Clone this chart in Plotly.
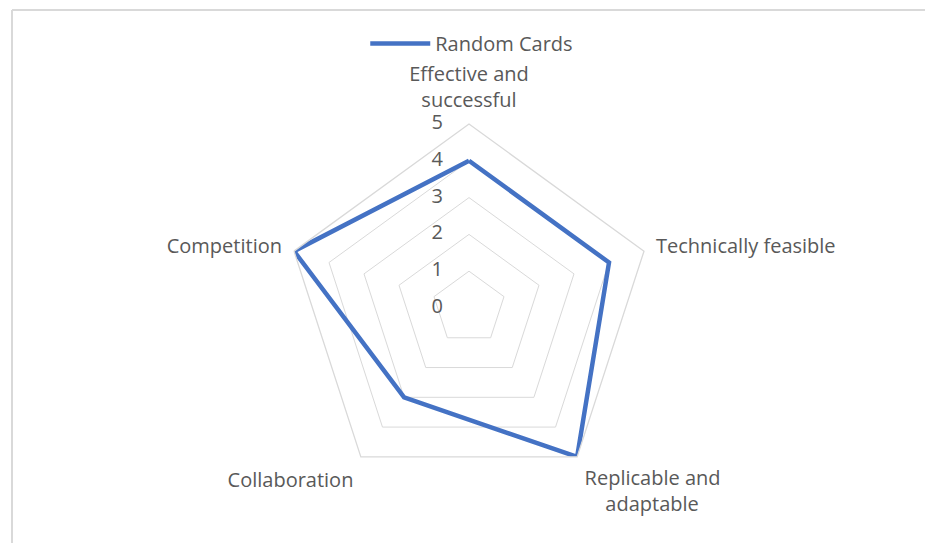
import plotly.graph_objects as go

categories = ["Effective and<br>successful", "Technically feasible",
              "Replicable and<br>&nbsp;&nbsp;&nbsp;&nbsp;adaptable", "Collaboration", "Competition"]
random_cards = [4, 4, 5, 3, 5]
series_name = "Random Cards"
radial_ticks = [0, 1, 2, 3, 4, 5]

W, H = 925, 543
cx, cy, rad = 469, 308, 184  # pixel centre / radius of the radar

fig = go.Figure()
fig.add_trace(go.Scatterpolar(
    r=random_cards + random_cards[:1],
    theta=categories + categories[:1],
    mode="lines",
    name=series_name,
    line=dict(color="#4472c4", width=4.5),
))

# radial tick labels, placed left of the vertical axis like Excel does
# (tiny nudge off 0 so plotly doesn't drop the centre label)
fig.add_trace(go.Scatterpolar(
    r=[max(t, 0.001) for t in radial_ticks],
    theta=[categories[0]] * len(radial_ticks),
    mode="text",
    text=[f"{t}&nbsp;&nbsp;&nbsp;&nbsp;&nbsp;" for t in radial_ticks],
    textposition="middle left",
    textfont=dict(size=20, color="#595959"),
    showlegend=False,
    hoverinfo="skip",
    cliponaxis=False,
))

fig.update_layout(
    width=W, height=H,
    paper_bgcolor="white",
    margin=dict(l=0, r=0, t=0, b=0),
    font=dict(family="Open Sans, sans-serif", size=20, color="#595959"),
    showlegend=True,
    legend=dict(orientation="h", x=0.51, xanchor="center", y=1 - 24 / H, yanchor="top",
                font=dict(size=20, color="#595959"), itemwidth=60, bgcolor="rgba(0,0,0,0)"),
    polar=dict(
        domain=dict(x=[(cx - rad) / W, (cx + rad) / W],
                    y=[(H - cy - rad) / H, (H - cy + rad) / H]),
        gridshape="linear",
        bgcolor="white",
        radialaxis=dict(range=[0, 5], tickvals=radial_ticks, angle=90,
                        showline=False, showgrid=True, gridcolor="#d9d9d9", gridwidth=1.3,
                        ticks="", showticklabels=False),
        angularaxis=dict(rotation=90, direction="clockwise",
                         showgrid=False, showline=True, linecolor="#d9d9d9", linewidth=1.3,
                         ticks="outside", ticklen=8, tickcolor="rgba(0,0,0,0)",
                         tickfont=dict(size=20, color="#595959")),
    ),
    shapes=[
        dict(type="line", xref="paper", yref="paper", x0=12 / W, x1=1, y0=1 - 10 / H, y1=1 - 10 / H,
             line=dict(color="#d9d9d9", width=2)),
        dict(type="line", xref="paper", yref="paper", x0=12 / W, x1=12 / W, y0=0, y1=1 - 10 / H,
             line=dict(color="#d9d9d9", width=2)),
    ],
)

fig.write_html("out.html", config={"displayModeBar": False},
               post_script="document.body.style.margin='0';")
